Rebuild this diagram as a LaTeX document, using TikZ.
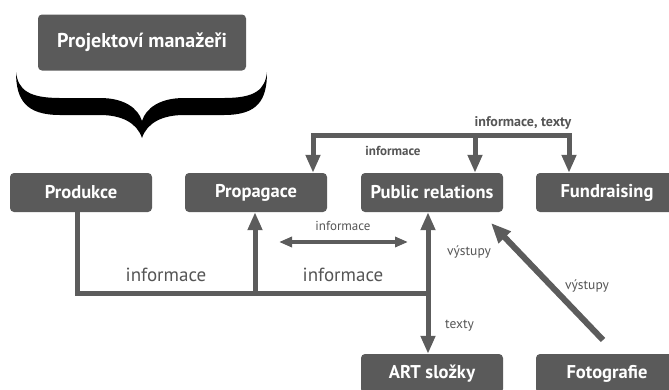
\documentclass[tikz,border=0pt]{standalone}
\usepackage{fontspec}
\setmainfont{PT Sans}
\usetikzlibrary{arrows.meta}
\definecolor{boxgray}{HTML}{5A5A5A}
\definecolor{linegray}{HTML}{5C5C5C}
\definecolor{labelgray}{HTML}{555555}
\tikzset{
  box/.style={fill=boxgray, rounded corners=4pt, minimum width=142pt, minimum height=39pt,
    inner sep=0pt, text=white, font=\bfseries\fontsize{18.5}{21}\selectfont},
  bus/.style={draw=linegray, line width=5pt},
  arr/.style={bus, -{Triangle[length=18pt,width=14pt]}},
  arrboth/.style={bus, {Triangle[length=18pt,width=14pt]}-{Triangle[length=18pt,width=14pt]}},
  thinboth/.style={draw=linegray, line width=3.2pt, {Triangle[length=13pt,width=10pt]}-{Triangle[length=13pt,width=10pt]}},
  diag/.style={draw=linegray, line width=6pt, -{Triangle[length=20pt,width=16pt]}},
  smalllbl/.style={text=labelgray, font=\bfseries\fontsize{13}{15}\selectfont, inner sep=0pt},
  midlbl/.style={text=labelgray, font=\fontsize{13.5}{16}\selectfont, inner sep=0pt},
  biglbl/.style={text=labelgray, font=\fontsize{19}{22}\selectfont, inner sep=0pt},
}
\begin{document}
\begin{tikzpicture}[x=1pt, y=-1pt]
\useasboundingbox (0,0) rectangle (669,389);
\clip (0,0) rectangle (669,389);

% project managers and the brace beneath them
\node[box, minimum width=208pt, minimum height=56pt, font=\bfseries\fontsize{20}{23}\selectfont] (pm) at (142,42.5) {Projektoví manažeři};
\fill[black] (16,72) .. controls (16,100) and (26,115) .. (60,115) -- (100,115)
  .. controls (122,115) and (137,123) .. (142,138)
  .. controls (147,123) and (162,115) .. (184,115) -- (224,115)
  .. controls (258,115) and (267,100) .. (267,72)
  .. controls (265,90) and (255,98) .. (224,98) -- (184,98)
  .. controls (160,98) and (146,108) .. (142,121)
  .. controls (138,108) and (124,98) .. (100,98) -- (60,98)
  .. controls (29,98) and (18,90) .. (16,72) -- cycle;

% departments
\node[box] (prod) at (81,192.5) {Produkce};
\node[box] (prop) at (256,192.5) {Propagace};
\node[box] (pr) at (432,192.5) {Public relations};
\node[box] (fund) at (607,192.5) {Fundraising};
\node[box] (art) at (432,373.5) {ART složky};
\node[box] (foto) at (607,373.5) {Fotografie};

% top distribution line
\coordinate (tl) at (313,135);
\coordinate (tm) at (475,135);
\coordinate (tr) at (569,135);
\draw[bus, line cap=rect] (tl) -- (tr);
\draw[arr] (tl) -- (tl |- prop.north);
\draw[arr] (tm) -- (tm |- pr.north);
\draw[arr] (tr) -- (tr |- fund.north);
\node[smalllbl, font=\bfseries\fontsize{14}{16}\selectfont] (l1) at (523,122.5) {informace, texty};
\node[smalllbl] (l2) at (393,151) {informace};

% bottom collecting line
\coordinate (bl) at (77,293);
\coordinate (bp) at (255,293);
\coordinate (br) at (428,293);
\draw[bus] (prod.south -| bl) -- (bl) -- (br);
\draw[arr] (bp) -- (bp |- prop.south);
\draw[arrboth] (br |- pr.south) -- (br |- art.north);
\node[biglbl] (l3) at (166,275) {informace};
\node[biglbl] (l4) at (343,275) {informace};

% exchange between Propagace and Public relations
\coordinate (da) at (279,242);
\coordinate (db) at (408,242);
\draw[thinboth] (da) -- (db);
\node[midlbl, font=\fontsize{13}{15}\selectfont] (l5) at (343,226) {informace};

% outputs
\node[midlbl] (l6) at (469,252) {výstupy};
\node[midlbl] (l7) at (459.5,326) {texty};
\node[midlbl] (l8) at (587,286) {výstupy};
\coordinate (fs) at (603,340);
\coordinate (ft) at (491,223);
\draw[diag] (fs) -- (ft);
\end{tikzpicture}
\end{document}
